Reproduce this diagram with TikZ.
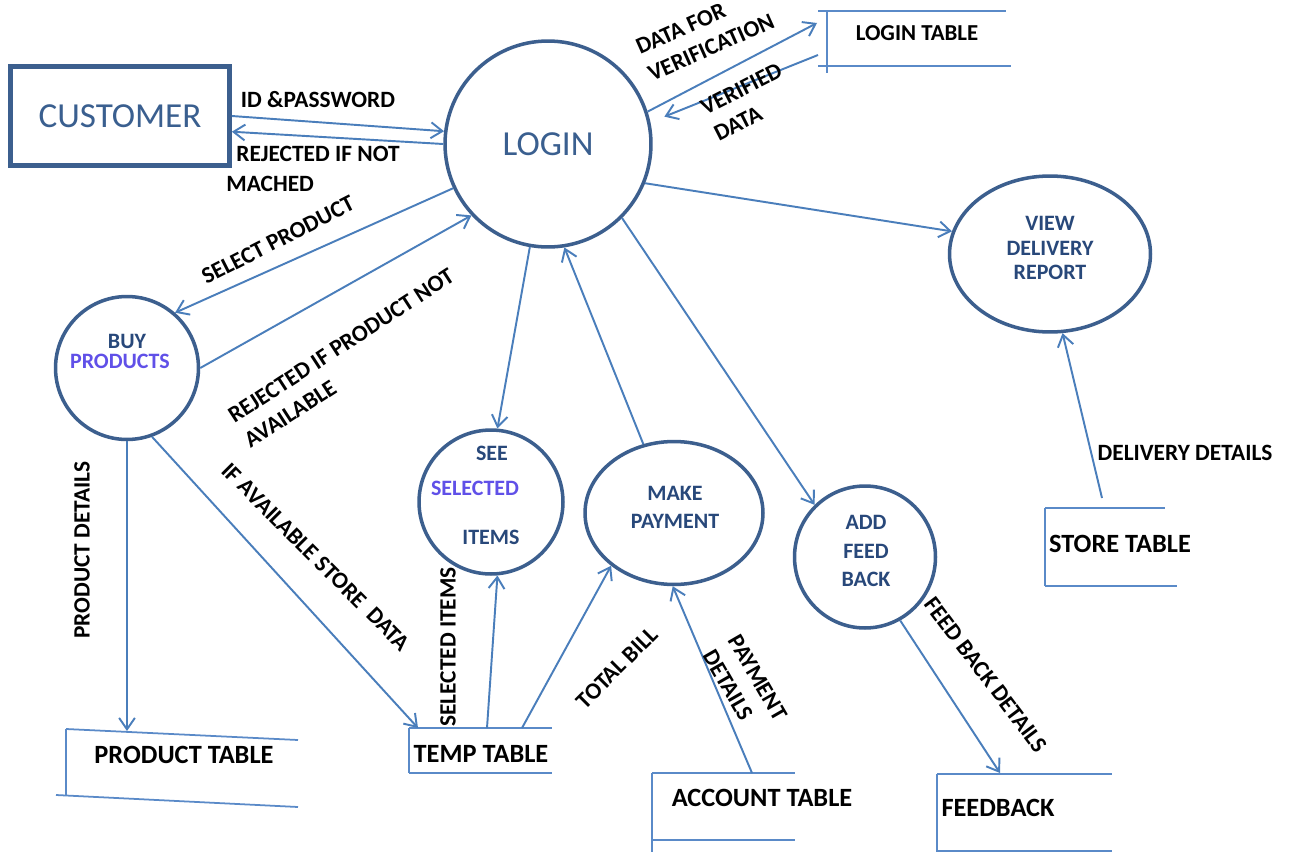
\documentclass[tikz,border=0pt]{standalone}
\usepackage{fontspec}
\setmainfont{Carlito}
\usetikzlibrary{arrows.meta,shapes.geometric}
\definecolor{circc}{RGB}{60,95,142}
\definecolor{arrc}{RGB}{74,126,187}
\definecolor{tabc}{RGB}{90,138,200}
\definecolor{ctext}{RGB}{40,72,122}
\definecolor{vtext}{RGB}{96,80,232}
\definecolor{bigtext}{RGB}{58,95,143}
\begin{document}
\begin{tikzpicture}[x=0.02cm,y=-0.02cm,
 proc/.style={shape=ellipse, draw=circc, line width=2pt, inner sep=0pt},
 flow/.style={draw=arrc, line width=1.1pt, -{Straight Barb[length=6.5pt,width=9pt]}},
 tabline/.style={draw=tabc, line width=1pt},
 lab/.style={font=\fontsize{13.3}{16.8}\selectfont\bfseries, inner sep=0pt},
 tabtxt/.style={font=\fontsize{15}{18}\selectfont\bfseries, inner sep=0pt},
 ptxt/.style={font=\fontsize{12.5}{16}\selectfont\bfseries, text=ctext, inner sep=0pt, align=center},
 vtxt/.style={ptxt, text=vtext}]

\fill[white] (0,0) rectangle (1291,852);
\useasboundingbox (0,0) rectangle (1291,852);

% processes and external entity
\node[draw=circc, line width=2.7pt, minimum width=4.38cm, minimum height=1.98cm, inner sep=0pt, text=bigtext, font=\fontsize{20}{24}\selectfont] (cust) at (120,116) {CUSTOMER};
\node[proc, minimum width=4.12cm, minimum height=4.12cm, text=bigtext, font=\fontsize{20}{24}\selectfont] (login) at (548,144) {LOGIN};
\node[proc, minimum width=2.86cm, minimum height=2.86cm] (buy) at (127,368) {};
\node[ptxt] (buyA) at (127,341) {BUY};
\node[vtxt] (buyB) at (120,361) {PRODUCTS};
\node[proc, minimum width=2.88cm, minimum height=2.88cm] (see) at (491,502) {};
\node[ptxt] (seeA) at (492,453) {SEE};
\node[vtxt] (seeB) at (475,488) {SELECTED};
\node[ptxt] (seeC) at (491,537) {ITEMS};
\node[proc, minimum width=3.56cm, minimum height=2.86cm] (pay) at (674,513) {};
\node[ptxt] (payT) at (675,507) {MAKE\\PAYMENT};
\node[proc, minimum width=2.82cm, minimum height=2.84cm] (fb) at (865,557) {};
\node[ptxt] (fbT) at (866,551) {ADD\\FEED\\BACK};
\node[proc, minimum width=4.02cm, minimum height=3.12cm] (view) at (1050,254) {};
\node[ptxt, font=\fontsize{12.5}{14.2}\selectfont\bfseries] (viewT) at (1050,248) {VIEW\\DELIVERY\\REPORT};

% data stores
\draw[tabline] (818,11) -- (1006,11) (818,66) -- (1011,66) (827,11) -- (827,73);
\node[lab, font=\fontsize{13}{16}\selectfont\bfseries] (logintab) at (917,33) {LOGIN TABLE};
\draw[tabline] (66,729) -- (298,740) (56,795) -- (298,807) (66,729) -- (66,796);
\node[tabtxt] (prodtab) at (184,755) {PRODUCT TABLE};
\draw[tabline] (409,728) -- (552,728) (409,773) -- (552,773) (409,728) -- (409,773);
\node[tabtxt] (temptab) at (481,754) {TEMP TABLE};
\draw[tabline] (652,773) -- (795,773) (652,840) -- (795,840) (652,773) -- (652,852);
\node[tabtxt] (acctab) at (762,798) {ACCOUNT TABLE};
\draw[tabline] (937,774) -- (1112,774) (937,851) -- (1112,851) (937,774) -- (937,852);
\node[tabtxt] (feedtab) at (998,808) {FEEDBACK};
\draw[tabline] (1045,508) -- (1165,508) (1045,586) -- (1177,586) (1045,508) -- (1045,586);
\node[tabtxt] (storetab) at (1120,544) {STORE TABLE};

% connector ends at data stores
\coordinate (ltIn) at (817,23);
\coordinate (ltOut) at (818,55);
\coordinate (prodIn) at (127,731);
\coordinate (tempIn) at (418,728);
\coordinate (tempA) at (487,728);
\coordinate (tempB) at (522,728);
\coordinate (accA) at (752,773);
\coordinate (feedIn) at (1000,773);
\coordinate (storeA) at (1102,498);

% flows
\draw[flow] (cust.east) -- (login.173);
\draw[flow] (login.180) -- (cust.-8);
\draw[flow] (login.18) -- (ltIn);
\draw[flow, shorten >=0.3cm] (ltOut) -- (login.12);
\draw[flow] (login.205) -- (buy.49);
\draw[flow] (buy.0) -- (login.223);
\draw[flow] (buy.south) -- (prodIn);
\draw[flow] (buy.-70) -- (tempIn);
\draw[flow] (login.260) -- (see.85);
\draw[flow] (tempA) -- (see.-85);
\draw[flow] (tempB) -- (pay.220);
\draw[flow] (pay.114) -- (login.279);
\draw[flow] (accA) -- (pay.-91);
\draw[flow] (login.-45) -- (fb.134);
\draw[flow] (fb.-61) -- (feedIn);
\draw[flow] (login.-22) -- (view.167);
\draw[flow] (storeA) -- (view.-81);

% flow labels
\node[lab] (lIdp) at (318,100) {ID \&PASSWORD};
\node[lab, align=left, anchor=west] (lRej) at (226,169) {\hspace*{0.2cm}REJECTED IF NOT\\MACHED};
\node[lab, align=left, rotate=24] (lDfv) at (705,34) {DATA FOR\\VERIFICATION};
\node[lab, align=left, rotate=27] (lVd) at (748,102) {VERIFIED\\DATA};
\node[lab, rotate=27] (lSel) at (278,240) {SELECT PRODUCT};
\node[lab, align=left, rotate=33] (lRpn) at (349,358) {REJECTED IF PRODUCT NOT\\AVAILABLE};
\node[lab, rotate=90] (lPd) at (82,550) {PRODUCT DETAILS};
\node[lab, rotate=-45] (lIas) at (316,557) {IF AVAILABLE STORE\ \ DATA};
\node[lab, rotate=90] (lSi) at (448,647) {SELECTED ITEMS};
\node[lab, rotate=45] (lTb) at (617,668) {TOTAL BILL};
\node[lab, align=left, rotate=-60] (lPay) at (745,685) {PAYMENT\\DETAILS};
\node[lab, rotate=-53] (lFbd) at (986,675) {FEED BACK DETAILS};
\node[lab] (lDd) at (1185,453) {DELIVERY DETAILS};
\end{tikzpicture}
\end{document}
